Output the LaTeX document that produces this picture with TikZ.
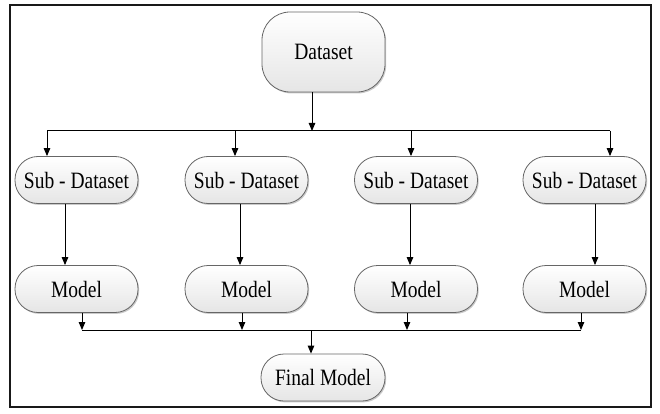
\documentclass[tikz,border=0pt]{standalone}
\usepackage{graphicx}
\usepackage{fontspec}
\setmainfont{Liberation Serif}
\usetikzlibrary{arrows.meta,shadows}

% labels are set slightly condensed (tall and narrow)
\newcommand{\tallLabel}[1]{\scalebox{1}[1.2]{#1}}

\tikzset{
  stage/.style={
    rectangle, rounded corners=23pt, draw=black!60, line width=0.8pt,
    top color=white, bottom color=black!10,
    drop shadow={shadow xshift=1.2pt, shadow yshift=-1.4pt, opacity=0.35, fill=black!60},
    minimum width=123pt, minimum height=47pt, inner sep=0pt,
    font=\fontsize{19.5}{22}\selectfont
  },
  arr/.style={draw=black, line width=1pt, -{Triangle[length=8pt,width=6.5pt]}},
  bus/.style={draw=black, line width=1pt}
}

\begin{document}
\begin{tikzpicture}[x=1pt, y=-1pt]
  \useasboundingbox (0,0) rectangle (660,414);
  % outer frame
  \draw[line width=2.8pt, black!90] (10,5) rectangle (651,407);

  % nodes
  \node[stage, minimum height=80pt, rounded corners=28pt] (ds) at (323.5,52) {\tallLabel{Dataset}};
  \node[stage] (s1) at (76.5,180) {\tallLabel{Sub - Dataset}};
  \node[stage] (s2) at (246.5,180) {\tallLabel{Sub - Dataset}};
  \node[stage] (s3) at (416,180) {\tallLabel{Sub - Dataset}};
  \node[stage] (s4) at (584.5,180) {\tallLabel{Sub - Dataset}};
  \node[stage] (m1) at (76.5,289) {\tallLabel{Model}};
  \node[stage] (m2) at (246.5,289) {\tallLabel{Model}};
  \node[stage] (m3) at (416,289) {\tallLabel{Model}};
  \node[stage] (m4) at (584.5,289) {\tallLabel{Model}};
  \node[stage, minimum width=124pt] (fm) at (323,377.5) {\tallLabel{Final Model}};

  % split bus
  \coordinate (busT) at (312,131);
  \draw[arr] ([xshift=-11.5pt]ds.south) -- (busT);
  \draw[bus] ([xshift=-29.5pt]s1.north |- busT) -- ([xshift=25.5pt]s4.north |- busT);
  \draw[arr] ([xshift=-29.5pt]s1.north |- busT) -- ([xshift=-29.5pt]s1.north);
  \draw[arr] ([xshift=-11.5pt]s2.north |- busT) -- ([xshift=-11.5pt]s2.north);
  \draw[arr] ([xshift=-5pt]s3.north |- busT) -- ([xshift=-5pt]s3.north);
  \draw[arr] ([xshift=25.5pt]s4.north |- busT) -- ([xshift=25.5pt]s4.north);

  % sub-dataset to model
  \draw[arr] ([xshift=-11.5pt]s1.south) -- ([xshift=-11.5pt]s1.south |- m1.north);
  \draw[arr] ([xshift=-6.5pt]s2.south) -- ([xshift=-6.5pt]s2.south |- m2.north);
  \draw[arr] ([xshift=-6pt]s3.south) -- ([xshift=-6pt]s3.south |- m3.north);
  \draw[arr] ([xshift=10.5pt]s4.south) -- ([xshift=10.5pt]s4.south |- m4.north);

  % merge bus
  \coordinate (busB) at (311,330);
  \draw[arr] ([xshift=5.5pt]m1.south) -- ([xshift=5.5pt]m1.south |- busB);
  \draw[arr] ([xshift=-4.5pt]m2.south) -- ([xshift=-4.5pt]m2.south |- busB);
  \draw[arr] ([xshift=-9pt]m3.south) -- ([xshift=-9pt]m3.south |- busB);
  \draw[arr] ([xshift=-3.5pt]m4.south) -- ([xshift=-3.5pt]m4.south |- busB);
  \draw[bus] ([xshift=5.5pt]m1.south |- busB) -- ([xshift=-3.5pt]m4.south |- busB);
  \draw[arr] (busB) -- (busB |- fm.north);
\end{tikzpicture}
\end{document}
